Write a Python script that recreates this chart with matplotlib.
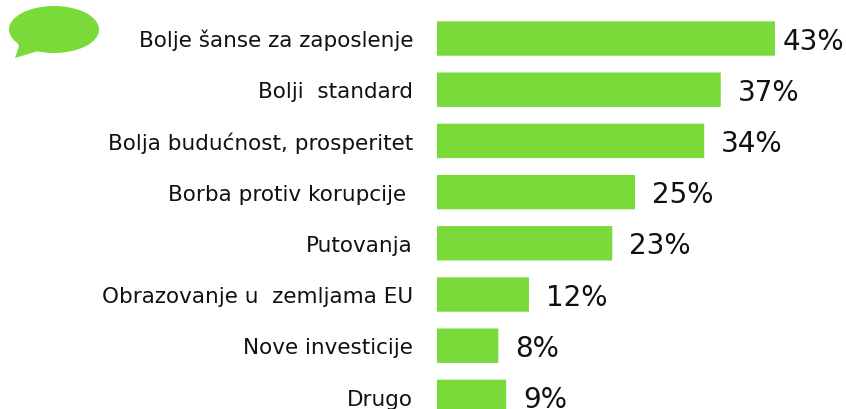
import matplotlib
matplotlib.use('Agg')
import matplotlib.pyplot as plt
from matplotlib.patches import Ellipse, Polygon

categories = ['Bolje šanse za zaposlenje', 'Bolji  standard', 'Bolja budućnost, prosperitet',
              'Borba protiv korupcije ', 'Putovanja', 'Obrazovanje u  zemljama EU',
              'Nove investicije', 'Drugo']
# bar lengths as drawn, they do not quite follow the printed labels
bar_values = [43, 36.1, 34, 25.2, 22.3, 11.7, 7.8, 8.8]
value_labels = ['43%', '37%', '34%', '25%', '23%', '12%', '8%', '9%']
label_gaps = [8, 17, 17, 17, 17, 17, 17, 17]

W, H = 846, 410
GREEN = '#7ada3a'
BAR_LEFT = 437
PX_PER_UNIT = 7.86
PITCH = 51.2
FIRST_CENTER = 39.5
PT = 0.72  # points per pixel at dpi 100

plt.rcParams['font.family'] = 'DejaVu Sans'
fig = plt.figure(figsize=(W / 100, H / 100), dpi=100)

# axes start at the bar baseline and fill the height of the picture
ax = fig.add_axes([BAR_LEFT / W, 0, 1 - BAR_LEFT / W, 1])
ax.set_xlim(0, (W - BAR_LEFT) / PX_PER_UNIT)
ax.set_ylim((H - FIRST_CENTER) / PITCH, -FIRST_CENTER / PITCH)

ypos = list(range(len(categories)))
bars = ax.barh(ypos, bar_values, height=34.4 / PITCH, color=GREEN, edgecolor='none')
for b in bars:
    b.set_snap(False)

ax.set_xticks([])
ax.set_yticks([])
for s in ax.spines.values():
    s.set_visible(False)

# baseline alignment so descenders do not shift the labels up and down
for y, cat in zip(ypos, categories):
    ax.annotate(cat, (0, y), xytext=(-24 * PT, -7.6 * PT), textcoords='offset points',
                va='baseline', ha='right', fontsize=15.5, color='#111111', annotation_clip=False)

for y, v, lab, gap in zip(ypos, bar_values, value_labels, label_gaps):
    ax.annotate(lab, (v, y), xytext=(gap * PT, -10 * PT), textcoords='offset points',
                va='baseline', ha='left', fontsize=20, color='#111111', annotation_clip=False)

# speech bubble, top left corner
bubble = fig.add_axes([0, 0, 1, 1], zorder=-1)
bubble.set_xlim(0, W)
bubble.set_ylim(H, 0)
bubble.axis('off')
bubble.add_patch(Ellipse((54, 30.5), 90, 47, color=GREEN, lw=0))
bubble.add_patch(Polygon([[16, 40], [19, 47], [15, 59], [38, 52], [30, 44]], color=GREEN, lw=0))

fig.savefig('out.png', dpi=100)
